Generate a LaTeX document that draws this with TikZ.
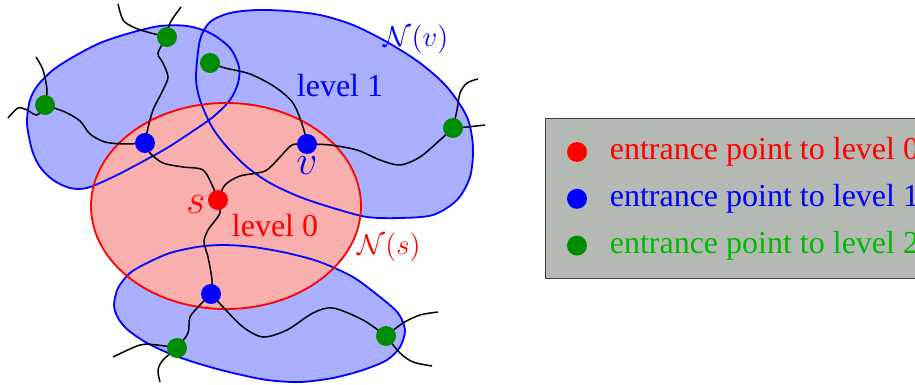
\documentclass[tikz,border=0pt]{standalone}
\usepackage{fontspec}
\setmainfont{Liberation Serif}
\usetikzlibrary{positioning,backgrounds}

\definecolor{regionblue}{RGB}{170,175,255}
\definecolor{regionred}{RGB}{250,175,175}
\definecolor{dotgreen}{RGB}{0,140,0}
\definecolor{textgreen}{RGB}{0,185,0}
\definecolor{legendgray}{RGB}{180,185,180}

\begin{document}
\begin{tikzpicture}[
  x=0.5pt, y=-0.5pt,
  font=\fontsize{16}{19}\selectfont,
  dot/.style={circle, inner sep=0pt, minimum size=10pt},
  mathlabel/.style={inner sep=0pt, font=\fontsize{14.4}{17}\selectfont},
  bigmath/.style={inner sep=0pt, font=\fontsize{20.74}{24}\selectfont},
  outline/.style={line width=0.9pt},
  wire/.style={line width=0.75pt, black},
]
  \useasboundingbox (0,0) rectangle (915,385);

  % entrance points
  \node[dot, fill=red] (s) at (218,200) {};
  \node[dot, fill=blue] (u) at (145,143) {};
  \node[dot, fill=blue] (v) at (307,144) {};
  \node[dot, fill=blue] (w) at (211,294) {};
  \node[dot, fill=dotgreen] (gtop) at (167,37) {};
  \node[dot, fill=dotgreen] (gleft) at (45,105) {};
  \node[dot, fill=dotgreen] (gmid) at (210,63) {};
  \node[dot, fill=dotgreen] (gright) at (453,128) {};
  \node[dot, fill=dotgreen] (gbl) at (177,348) {};
  \node[dot, fill=dotgreen] (gbr) at (386,336) {};

  % labels
  \node[bigmath, text=red, left=1pt of s, yshift=-2.5pt] (slabel) {$s$};
  \node[bigmath, text=blue, below=1pt of v] (vlabel) {$v$};
  \node[text=blue] (lev1) at (340,86) {level 1};
  \node[text=red] (lev0) at (275,226) {level 0};
  \node[mathlabel, text=blue] (nv) at (416,39) {$\mathcal{N}(v)$};
  \node[mathlabel, text=red] (ns) at (389,247) {$\mathcal{N}(s)$};

  % free ends
  \coordinate (e1) at (36,57);   \coordinate (e2) at (8,118);
  \coordinate (e3) at (118,4);   \coordinate (e4) at (181,7);
  \coordinate (e5) at (478,79);  \coordinate (e6) at (485,125);
  \coordinate (e7) at (113,357); \coordinate (e8) at (160,382);
  \coordinate (e9) at (438,312); \coordinate (e10) at (432,366);

  \begin{pgfonlayer}{background}
    \path[save path=\regionA] plot[smooth cycle] coordinates {(27,123) (30,100) (38,85) (53,70) (73,57) (100,43) (130,33) (160,26) (187,26) (210,33) (230,48) (239,67) (238,83) (230,100) (213,117) (190,133) (167,148) (140,163) (113,177) (87,188) (70,188) (53,180) (40,167) (32,150)};
    \path[save path=\regionB] plot[smooth cycle] coordinates {(196,77) (200,40) (210,22) (230,13) (257,10) (287,11) (320,15) (353,25) (387,42) (420,63) (447,87) (467,117) (473,147) (470,177) (457,200) (433,215) (400,218) (367,217) (333,208) (300,197) (270,183) (247,167) (227,147) (212,127) (200,100)};
    \path[save path=\regionC] plot[smooth cycle] coordinates {(114,305) (118,288) (130,273) (147,263) (170,253) (197,247) (223,245) (253,247) (287,253) (320,262) (353,277) (380,297) (398,313) (405,330) (400,347) (387,360) (363,370) (333,378) (300,382) (267,380) (233,373) (203,365) (173,355) (147,343) (128,330) (118,318)};
    \fill[regionblue, use path=\regionA];
    \fill[regionblue, use path=\regionB];
    \fill[regionblue, use path=\regionC];
    \fill[regionred] (226,206) ellipse [x radius=135, y radius=103];
    \draw[outline, blue, use path=\regionA];
    \draw[outline, blue, use path=\regionB];
    \draw[outline, blue, use path=\regionC];
    \draw[outline, red] (226,206) ellipse [x radius=135, y radius=103];

    % paths between entrance points
    \draw[wire] plot[smooth] coordinates {(s) (213,187) (203,170) (183,167) (163,163) (150,153) (u)};
    \draw[wire] plot[smooth] coordinates {(s) (225,185) (240,176) (265,171) (280,157) (292,145) (v)};
    \draw[wire] plot[smooth] coordinates {(s) (220,213) (208,230) (204,242) (208,257) (212,280) (w)};
    \draw[wire] plot[smooth] coordinates {(u) (148,128) (153,110) (163,90) (168,77) (163,63) (158,53) (gtop)};
    \draw[wire] plot[smooth] coordinates {(u) (125,144) (105,142) (90,134) (80,121) (65,112) (gleft)};
    \draw[wire] plot[smooth] coordinates {(v) (303,127) (293,103) (275,87) (250,74) (225,68) (gmid)};
    \draw[wire] plot[smooth] coordinates {(v) (330,145) (357,150) (380,160) (400,165) (420,157) (440,140) (gright)};
    \draw[wire] plot[smooth] coordinates {(w) (200,305) (190,317) (188,333) (gbl)};
    \draw[wire] plot[smooth] coordinates {(w) (223,307) (243,327) (263,337) (287,330) (313,313) (333,308) (363,320) (gbr)};
    % loose ends
    \draw[wire] plot[smooth] coordinates {(gleft) (47,90) (43,70) (e1)};
    \draw[wire] plot[smooth] coordinates {(gleft) (37,115) (27,110) (18,108) (e2)};
    \draw[wire] plot[smooth] coordinates {(gtop) (147,32) (133,27) (123,20) (e3)};
    \draw[wire] plot[smooth] coordinates {(gtop) (170,23) (e4)};
    \draw[wire] plot[smooth] coordinates {(gright) (457,110) (460,93) (467,83) (e5)};
    \draw[wire] plot[smooth] coordinates {(gright) (467,127) (e6)};
    \draw[wire] plot[smooth] coordinates {(gbl) (157,345) (140,345) (e7)};
    \draw[wire] plot[smooth] coordinates {(gbl) (163,360) (158,370) (e8)};
    \draw[wire] plot[smooth] coordinates {(gbr) (403,323) (420,315) (e9)};
    \draw[wire] plot[smooth] coordinates {(gbr) (400,353) (413,362) (e10)};
  \end{pgfonlayer}

  % legend
  \node[draw=black!75, fill=legendgray, line width=0.7pt, anchor=north west,
        minimum width=200pt, minimum height=80pt, inner sep=0pt] (legend) at (545,118) {};
  \node[dot, fill=red] (l0) at (577,152) {};
  \node[dot, fill=blue, below=13pt of l0] (l1) {};
  \node[dot, fill=dotgreen, below=13pt of l1] (l2) {};
  \node[inner sep=0pt, text=red, right=11pt of l0] (t0) {entrance point to level 0};
  \node[inner sep=0pt, text=blue, right=11pt of l1] (t1) {entrance point to level 1};
  \node[inner sep=0pt, text=textgreen, right=11pt of l2] (t2) {entrance point to level 2};
\end{tikzpicture}
\end{document}
